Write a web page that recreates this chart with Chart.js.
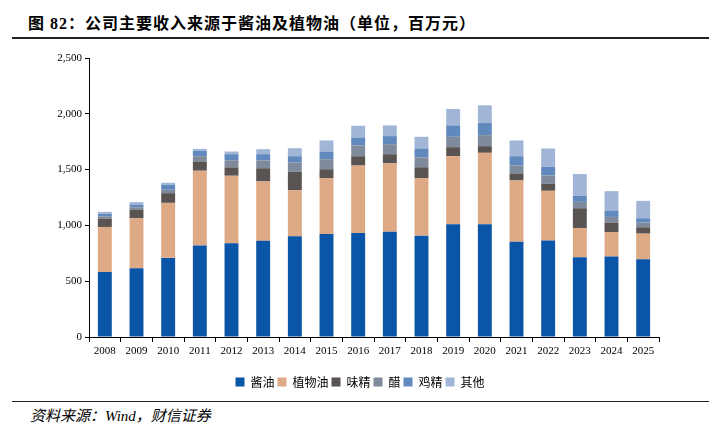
<!DOCTYPE html>
<html>
<head>
<meta charset="utf-8">
<script src="https://cdn.jsdelivr.net/npm/chart.js@4.4.0/dist/chart.umd.min.js"></script>
<style>
  html, body { margin: 0; padding: 0; background: #fff; }
  #wrap { position: relative; width: 720px; height: 430px; overflow: hidden; }
  #title { position: absolute; left: 28px; top: 10px; font: bold 16px "Liberation Serif", "Noto Sans CJK SC", serif; letter-spacing: 1px; color: #000; white-space: nowrap; }
  #rule1 { position: absolute; left: 12px; top: 37px; width: 697px; height: 2px; background: #222; }
  #rule2 { position: absolute; left: 12px; top: 401px; width: 697px; height: 1px; background: #222; }
  #source { position: absolute; left: 30px; top: 404px; font: italic 15px "Liberation Serif", "Noto Sans CJK SC", serif; color: #000; white-space: nowrap; }
  #box { position: absolute; left: 0; top: 40px; width: 720px; height: 358px; }
</style>
</head>
<body>
<div id="wrap">
  <div id="title">图 82：公司主要收入来源于酱油及植物油（单位，百万元）</div>
  <div id="rule1"></div>
  <div id="box"><canvas id="chart"></canvas></div>
  <div id="rule2"></div>
  <div id="source">资料来源：Wind，财信证券</div>
</div>
<script>
// years on the x axis
const years = ['2008', '2009', '2010', '2011', '2012', '2013', '2014', '2015', '2016',
  '2017', '2018', '2019', '2020', '2021', '2022', '2023', '2024', '2025'];

// revenue by product line (百万元)
const soySauce  = [583, 616, 709, 820, 841, 862, 902, 923, 932, 944, 908, 1010, 1010, 853, 865, 715, 721, 697];
const vegOil    = [403, 448, 493, 670, 604, 532, 414, 501, 604, 613, 516, 610, 640, 550, 445, 262, 220, 229];
const msg       = [75, 78, 87, 79, 75, 118, 165, 79, 84, 81, 97, 81, 60, 63, 63, 177, 84, 57];
const vinegar   = [21, 21, 30, 51, 64, 69, 82, 90, 96, 90, 87, 93, 99, 70, 75, 57, 51, 42];
const chicken   = [21, 24, 45, 48, 54, 57, 57, 69, 72, 72, 81, 102, 108, 84, 76, 54, 57, 39];
const others    = [18, 21, 18, 18, 24, 45, 72, 99, 105, 96, 105, 147, 159, 141, 165, 195, 174, 156];

const seriesNames = ['酱油', '植物油', '味精', '醋', '鸡精', '其他'];
const seriesColors = ['#0b55a8', '#dea985', '#595352', '#7f8b9c', '#6189bd', '#a1b6d7'];
const seriesData = [soySauce, vegOil, msg, vinegar, chicken, others];

const yTicks = [0, 500, 1000, 1500, 2000, 2500];

const serif = '"Liberation Serif", "Times New Roman", serif';

const datasets = seriesNames.map((name, i) => ({
  label: name,
  data: seriesData[i],
  backgroundColor: seriesColors[i],
  borderWidth: 0,
  barPercentage: 0.88,
  categoryPercentage: 0.5
}));

const ctx = document.getElementById('chart');
new Chart(ctx, {
  type: 'bar',
  data: { labels: years, datasets },
  options: {
    responsive: true,
    maintainAspectRatio: false,
    animation: false,
    layout: { padding: { left: 0, right: 0, top: 18, bottom: 0 } },
    plugins: {
      legend: {
        position: 'bottom',
        labels: {
          boxWidth: 9,
          boxHeight: 9,
          padding: 3,
          color: '#000',
          font: { size: 12, family: '"Noto Sans CJK SC", sans-serif' }
        }
      },
      tooltip: { enabled: false }
    },
    scales: {
      x: {
        stacked: true,
        border: { display: true, color: '#000', width: 1 },
        grid: { display: true, drawOnChartArea: false, drawTicks: true, tickLength: 5, color: '#000', offset: true },
        ticks: { color: '#000', font: { size: 11, family: serif }, padding: 3, maxRotation: 0 },
        afterFit: (s) => { s.height = 36; }
      },
      y: {
        stacked: true,
        min: 0,
        max: 2500,
        border: { display: true, color: '#000', width: 1 },
        grid: { display: true, drawOnChartArea: false, drawTicks: true, tickLength: 4, color: '#000' },
        ticks: {
          color: '#000',
          font: { size: 11, family: serif },
          padding: 3,
          callback: (v) => yTicks.includes(v) ? v.toLocaleString('en-US') : null,
          stepSize: 500
        },
        afterFit: (s) => { s.width = 89; }
      },
      // empty right-hand axis, only reserves the right margin so the legend stays centred
      yPad: {
        position: 'right',
        display: true,
        border: { display: false },
        grid: { display: false },
        ticks: { display: false },
        afterFit: (s) => { s.width = 61; }
      }
    }
  }
});
</script>
</body>
</html>
